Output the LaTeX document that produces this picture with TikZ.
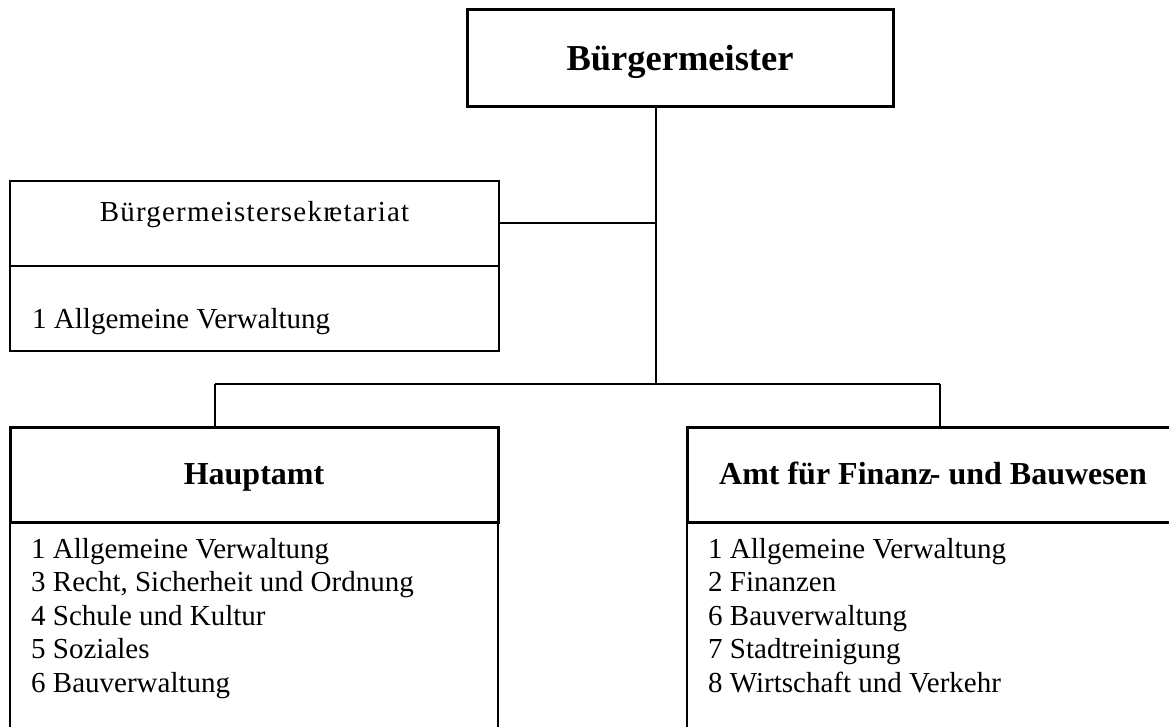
\documentclass[tikz,border=0pt]{standalone}
\usepackage{fontspec}
\setmainfont{Liberation Serif}
\begin{document}
\begin{tikzpicture}[x=1pt,y=-1pt,
  thickbox/.style={draw=black, line width=3pt, rectangle, inner sep=0pt, fill=white},
  thinbox/.style={draw=black, line width=1.5pt, rectangle, inner sep=0pt},
  conn/.style={draw=black, line width=1.6pt},
  reg/.style={inner sep=0pt, font=\fontsize{29}{33.5}\selectfont},
  bigtitle/.style={inner sep=0pt, font=\fontsize{36.5}{40}\selectfont\bfseries},
  title/.style={inner sep=0pt, font=\fontsize{32}{36}\selectfont\bfseries},
  item/.style={inner sep=0pt, anchor=base west, font=\fontsize{29}{33.5}\selectfont}]
\useasboundingbox (0,0) rectangle (1169,727);
\fill[white] (0,0) rectangle (1169,727);
\clip (0,0) rectangle (1169,727);

% Bürgermeister
\node[thickbox, minimum width=426pt, minimum height=97pt] (bm) at (680,58.5) {};
\node[bigtitle, anchor=base] (bmtext) at (680,71) {Bürgermeister};

% Sekretariat
\node[thinbox, minimum width=489pt, minimum height=170pt] (sek) at (254.5,266) {};
\draw[line width=1.5pt] (sek.west) -- (sek.east);
\node[reg, anchor=base] (sektext) at (254.5,222) {\addfontfeature{LetterSpace=4.2}Bürgermeistersekr\kern-0.12em etariat};
\node[item] (sekitem) at (32,328) {1 Allgemeine Verwaltung};

% junctions
\coordinate (jsek) at (656,223);
\coordinate (jbus) at (656,384);
\coordinate (jl) at (215,384);
\coordinate (jr) at (940,384);

% Hauptamt
\node[thinbox, minimum width=488pt, minimum height=260pt] (habody) at (254,652) {};
\node[thickbox, minimum width=488pt, minimum height=95pt] (ha) at (254,474.5) {};
\node[title, anchor=base] (hatext) at (254,484) {Hauptamt};
\node[item] (ha1) at (31,558) {1 Allgemeine Verwaltung};
\node[item] (ha2) at (31,591.5) {3 Recht, Sicherheit und Ordnung};
\node[item] (ha3) at (31,625) {4 Schule und Kultur};
\node[item] (ha4) at (31,658.5) {5 Soziales};
\node[item] (ha5) at (31,692) {6 Bauverwaltung};

% Amt für Finanz- und Bauwesen
\node[thinbox, minimum width=493pt, minimum height=260pt] (afbody) at (933.5,652) {};
\node[thickbox, minimum width=493pt, minimum height=95pt] (af) at (933.5,474.5) {};
\node[title, anchor=base] (aftext) at (933,484) {Amt für Finanz\kern-0.08em- und Bauwesen};
\node[item] (af1) at (708,558) {1 Allgemeine Verwaltung};
\node[item] (af2) at (708,591.5) {2 Finanzen};
\node[item] (af3) at (708,625) {6 Bauverwaltung};
\node[item] (af4) at (708,658.5) {7 Stadtreinigung};
\node[item] (af5) at (708,692) {8 Wirtschaft und Verkehr};

% connectors
\draw[conn] (bm.south -| jbus) -- (jbus);
\draw[conn] (jsek -| sek.east) -- (jsek);
\draw[conn] (jl) -- (jr);
\draw[conn] (jl) -- (jl |- ha.north);
\draw[conn] (jr) -- (jr |- af.north);
\end{tikzpicture}
\end{document}
